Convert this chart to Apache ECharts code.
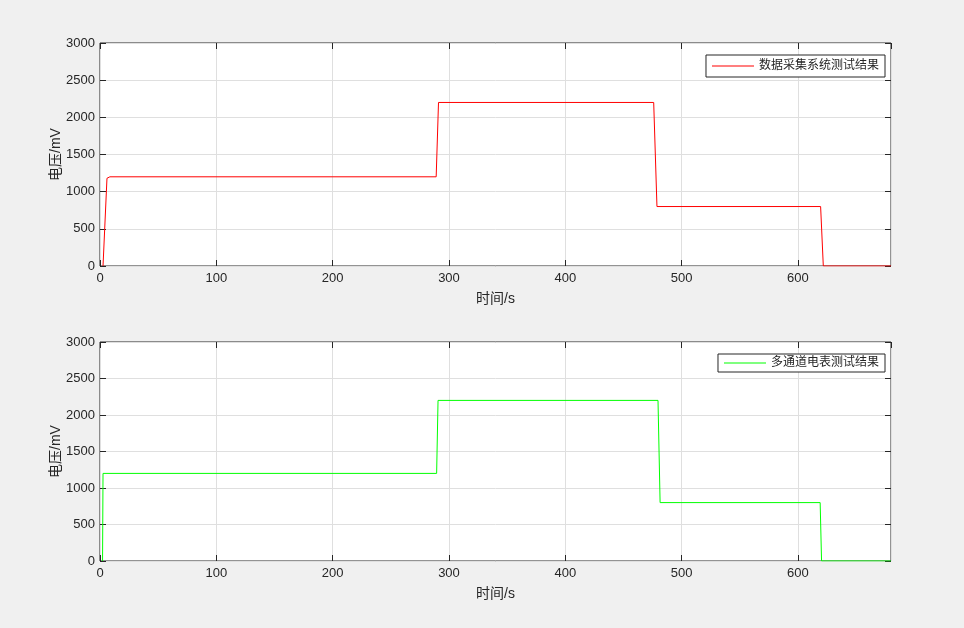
<!DOCTYPE html>
<html><head><meta charset="utf-8">
<script src="https://cdn.jsdelivr.net/npm/echarts@6/dist/echarts.min.js"></script>
<style>html,body{margin:0;padding:0;background:#f0f0f0;}#c{width:964px;height:628px;}</style>
</head><body><div id="c"></div>
<script>
var topName = '数据采集系统测试结果';
var botName = '多通道电表测试结果';
var topTimes  = [2.6, 6, 8.5, 289, 291, 476, 478.8, 619.5, 621.8, 680];
var topValues = [0, 1180, 1200, 1200, 2200, 2200, 800, 800, 0, 0];
var botTimes  = [2.2, 2.6, 289.4, 290.6, 479.7, 481.5, 619.1, 620.3, 680];
var botValues = [0, 1200, 1200, 2200, 2200, 800, 800, 0, 0];
var xTicks = [0, 100, 200, 300, 400, 500, 600];
var yTicks = [0, 500, 1000, 1500, 2000, 2500, 3000];

function pairs(t, v){ return t.map(function(x,i){return [x, v[i]];}); }
var font = "'Liberation Sans', 'Noto Sans CJK SC', sans-serif";
var txt = '#262626';
function xAx(gi, main){
  return {type:'value', gridIndex:gi, min:0, max:680, interval:100,
    position: main ? 'bottom' : 'top',
    name: main ? '时间/s' : '', nameLocation:'middle', nameGap:26, nameMoveOverlap:false,
    nameTextStyle:{color:txt, fontSize:14, fontFamily:font},
    axisLine:{show:false, onZero:false},
    axisTick:{show:true, inside:true, length:6, lineStyle:{color:txt}},
    axisLabel:{show:main, color:txt, fontSize:13, fontFamily:font, margin:6, showMaxLabel:false,
      formatter:function(v){ return xTicks.indexOf(v) >= 0 ? String(v) : ''; }},
    splitLine:{show:main, lineStyle:{color:'#dfdfdf'}}};
}
function yAx(gi, main){
  return {type:'value', gridIndex:gi, min:0, max:3000, interval:500,
    position: main ? 'left' : 'right',
    name: main ? '电压/mV' : '', nameLocation:'middle', nameGap:37, nameMoveOverlap:false,
    nameTextStyle:{color:txt, fontSize:14, fontFamily:font},
    axisLine:{show:false, onZero:false},
    axisTick:{show:true, inside:true, length:6, lineStyle:{color:txt}},
    axisLabel:{show:main, color:txt, fontSize:13, fontFamily:font, margin:5,
      formatter:function(v){ return yTicks.indexOf(v) >= 0 ? String(v) : ''; }},
    splitLine:{show:main, lineStyle:{color:'#dfdfdf'}}};
}
var chart = echarts.init(document.getElementById('c'));
chart.setOption({
  backgroundColor:'#f0f0f0',
  animation:false,
  grid:[
    {left:100, right:73, top:43, height:223, show:true, backgroundColor:'#fff', borderColor:'#262626', borderWidth:1},
    {left:100, right:73, top:342, height:219, show:true, backgroundColor:'#fff', borderColor:'#262626', borderWidth:1}
  ],
  xAxis:[xAx(0,true), xAx(1,true), xAx(0,false), xAx(1,false)],
  yAxis:[yAx(0,true), yAx(1,true), yAx(0,false), yAx(1,false)],
  legend:[
    {data:[topName], right:79, top:55, orient:'vertical', backgroundColor:'#fff', borderColor:'#262626', borderWidth:1,
     padding:[5,6,5,6], itemWidth:42, itemHeight:1, icon:'rect', itemGap:4,
     textStyle:{color:txt, fontSize:12, fontFamily:font}},
    {data:[botName], right:79, top:354, orient:'vertical', backgroundColor:'#fff', borderColor:'#262626', borderWidth:1,
     padding:[3,6,3,6], itemWidth:42, itemHeight:1, icon:'rect', itemGap:4,
     textStyle:{color:txt, fontSize:12, fontFamily:font}}
  ],
  series:[
    {name:topName, type:'line', xAxisIndex:0, yAxisIndex:0, data:pairs(topTimes, topValues),
     showSymbol:false, lineStyle:{color:'#ff0000', width:1}, itemStyle:{color:'#ff0000'}},
    {name:botName, type:'line', xAxisIndex:1, yAxisIndex:1, data:pairs(botTimes, botValues),
     showSymbol:false, lineStyle:{color:'#00ff00', width:1}, itemStyle:{color:'#00ff00'}}
  ]
});
</script></body></html>
